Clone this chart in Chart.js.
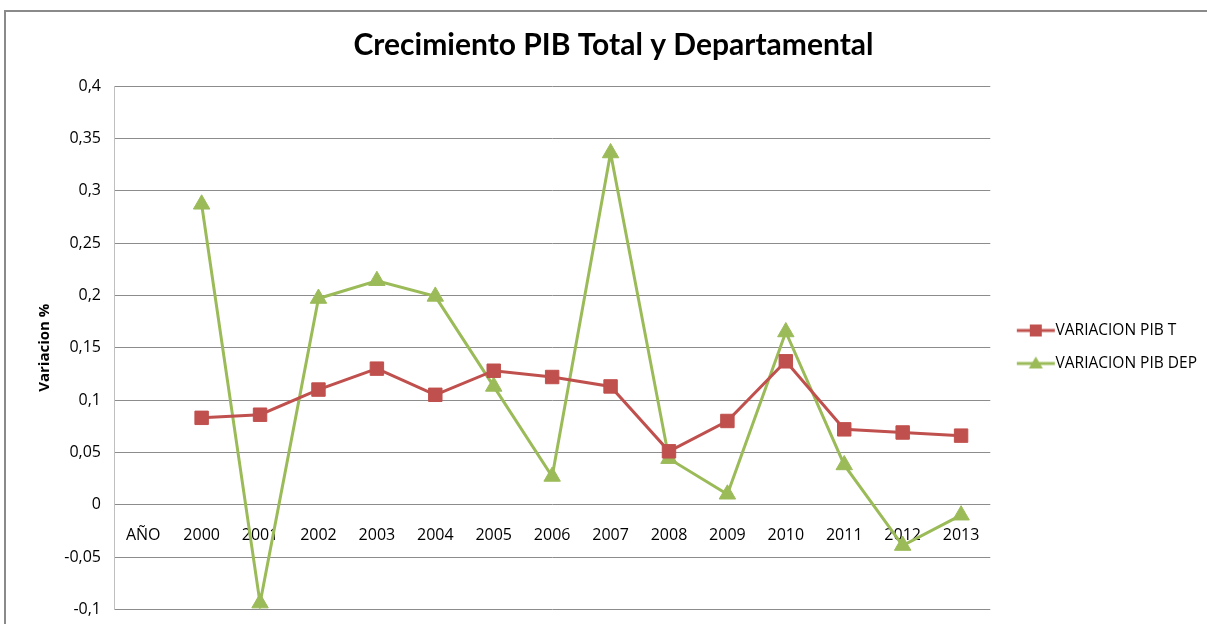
<!DOCTYPE html>
<html>
<head>
<meta charset="utf-8">
<script src="https://cdn.jsdelivr.net/npm/chart.js@4"></script>
<style>
  html, body { margin: 0; padding: 0; background: #fff; overflow: hidden; }
  #marco { position: absolute; left: 4px; top: 10px; width: 1240px; height: 660px; border: 2px solid #8a8a8a; }
  #grafico { position: absolute; left: 0; top: 0; }
</style>
</head>
<body>
<div id="marco"></div>
<canvas id="grafico" width="1207" height="624"></canvas>
<script>
// datos
var anios = ["AÑO", "2000", "2001", "2002", "2003", "2004", "2005", "2006", "2007", "2008", "2009", "2010", "2011", "2012", "2013"];
var variacionPibT = [null, 0.083, 0.086, 0.110, 0.130, 0.105, 0.128, 0.122, 0.113, 0.051, 0.080, 0.137, 0.072, 0.069, 0.066];
var variacionPibDep = [null, 0.287, -0.094, 0.197, 0.214, 0.199, 0.113, 0.027, 0.336, 0.044, 0.010, 0.165, 0.038, -0.039, -0.010];

var rojo = "#C0504D";
var verde = "#9BBB59";

// icono de leyenda: linea con el marcador en el medio
function iconoLeyenda(color, forma) {
    var c = document.createElement("canvas");
    c.width = 64;
    c.height = 16;
    var g = c.getContext("2d");
    g.strokeStyle = color;
    g.fillStyle = color;
    g.lineWidth = 3;
    g.beginPath();
    g.moveTo(21, 8);
    g.lineTo(59, 8);
    g.stroke();
    g.beginPath();
    if (forma == "cuadrado") {
        g.rect(34, 2, 12, 12);
    } else {
        g.moveTo(40, 1);
        g.lineTo(47, 13);
        g.lineTo(33, 13);
        g.closePath();
    }
    g.fill();
    return c;
}

var iconos = [iconoLeyenda(rojo, "cuadrado"), iconoLeyenda(verde, "triangulo")];

function formatoComa(valor) {
    return String(parseFloat(valor.toFixed(2))).replace(".", ",") + "\u2002";
}

var ctx = document.getElementById("grafico").getContext("2d");

new Chart(ctx, {
    type: "line",
    data: {
        labels: anios,
        datasets: [{
            label: "VARIACION PIB T",
            data: variacionPibT,
            borderColor: rojo,
            backgroundColor: rojo,
            borderWidth: 3,
            pointStyle: "rect",
            pointRadius: 9.5,
            pointBorderWidth: 1,
            tension: 0
        }, {
            label: "VARIACION PIB DEP",
            data: variacionPibDep,
            borderColor: verde,
            backgroundColor: verde,
            borderWidth: 3,
            pointStyle: "triangle",
            pointRadius: 9.5,
            pointBorderWidth: 1,
            tension: 0
        }]
    },
    options: {
        responsive: false,
        animation: false,
        layout: {
            padding: { left: 20, right: 0, top: 0, bottom: 8 }
        },
        plugins: {
            title: {
                display: true,
                text: "Crecimiento PIB Total y Departamental",
                color: "#000",
                font: { family: "Lato", size: 30, weight: "bold" },
                padding: { top: 27, bottom: 23 }
            },
            legend: {
                position: "right",
                title: {
                    display: true,
                    text: " ",
                    font: { size: 10 },
                    padding: { top: 66, bottom: 0 }
                },
                labels: {
                    color: "#000",
                    font: { family: "Open Sans", size: 15.5 },
                    usePointStyle: true,
                    pointStyleWidth: 40,
                    padding: 17.5,
                    generateLabels: function (chart) {
                        var items = Chart.defaults.plugins.legend.labels.generateLabels(chart);
                        items.forEach(function (item, i) {
                            item.pointStyle = iconos[i];
                        });
                        return items;
                    }
                }
            },
            tooltip: { enabled: false }
        },
        scales: {
            x: {
                position: { y: 0 },
                offset: true,
                grid: { display: false },
                border: { display: false },
                ticks: {
                    color: "#000",
                    font: { family: "Open Sans", size: 16 },
                    padding: 13,
                    maxRotation: 0,
                    autoSkip: false
                }
            },
            y: {
                min: -0.1,
                max: 0.4,
                afterFit: function (escala) {
                    escala.width = 94;
                },
                grid: { color: "#8c8c8c", drawTicks: false },
                border: { color: "#bfbfbf", width: 1 },
                ticks: {
                    stepSize: 0.05,
                    color: "#000",
                    font: { family: "Open Sans", size: 16 },
                    padding: 5,
                    callback: function (valor) {
                        return formatoComa(valor);
                    }
                },
                title: {
                    display: true,
                    text: "Variacion %",
                    color: "#000",
                    font: { family: "Open Sans", size: 15, weight: "bold" },
                    padding: { top: 16, bottom: 0 }
                }
            }
        }
    }
});
</script>
</body>
</html>
